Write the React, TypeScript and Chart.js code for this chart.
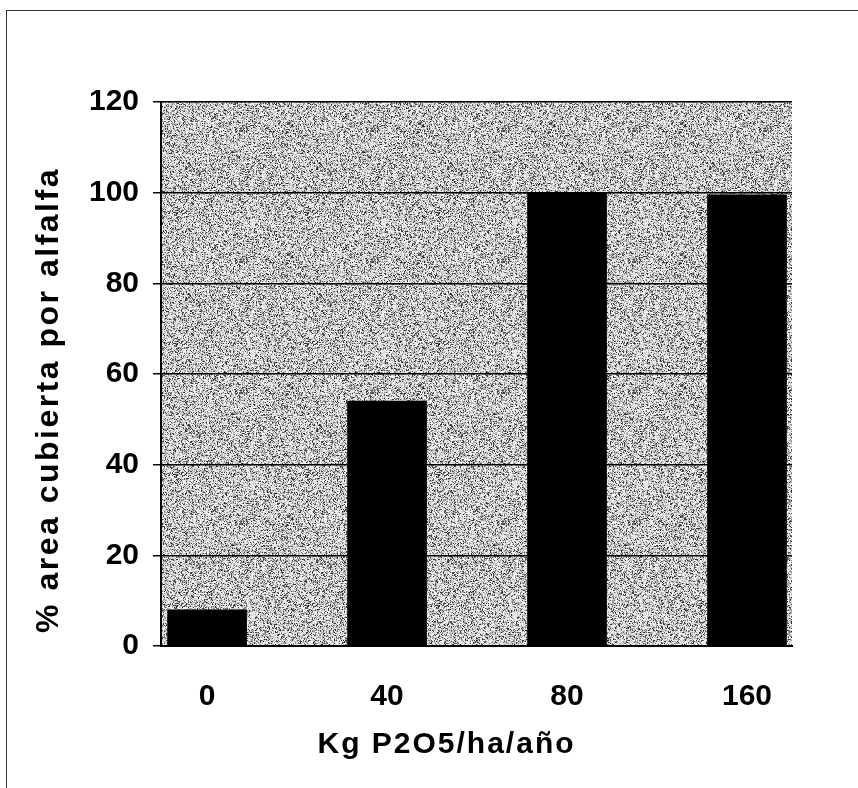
import React, { useEffect, useRef } from "react";
import { Chart, registerables } from "chart.js";

Chart.register(...registerables);

const categories = ["0", "40", "80", "160"];
const coverValues = [8, 54, 100, 99.5];
const yTicks = [0, 20, 40, 60, 80, 100, 120];
const xTitle = "Kg P2O5/ha/año";
const yTitle = "% area cubierta por alfalfa";

function makeNoisePattern(ctx: CanvasRenderingContext2D) {
  const size = 131;
  const pc = document.createElement("canvas");
  pc.width = size;
  pc.height = size;
  const p = pc.getContext("2d")!;
  const img = p.createImageData(size, size);
  for (let y = 0; y < size; y++) {
    for (let x = 0; x < size; x++) {
      let h = Math.imul(x, 374761393) + Math.imul(y, 668265263);
      h = Math.imul(h ^ (h >>> 13), 1274126177);
      h = (h ^ (h >>> 16)) >>> 0;
      const r = (h % 1000) / 1000;
      const r2 = ((h >>> 10) % 1000) / 1000;
      let g: number;
      if (r < 0.52) g = 215 + r2 * 40;
      else if (r < 0.8) g = 145 + r2 * 60;
      else g = 35 + r2 * 80;
      const i = (y * size + x) * 4;
      img.data[i] = g;
      img.data[i + 1] = g;
      img.data[i + 2] = g;
      img.data[i + 3] = 255;
    }
  }
  p.putImageData(img, 0, 0);
  return ctx.createPattern(pc, "repeat");
}

function styleTitle(scale: any, spacing: string, dx: number, dy: number) {
  if (scale.__styled) return;
  const orig = scale.drawTitle.bind(scale);
  scale.drawTitle = function () {
    const c = scale.ctx;
    c.save();
    (c as any).letterSpacing = spacing;
    c.translate(dx, dy);
    orig();
    c.restore();
  };
  scale.__styled = true;
}

export default function App() {
  const ref = useRef<HTMLCanvasElement>(null);

  useEffect(() => {
    document.body.style.margin = "0";
    const canvas = ref.current!;
    const ctx = canvas.getContext("2d")!;
    const pattern = makeNoisePattern(ctx);

    const bgPlugin = {
      id: "noiseBg",
      beforeDraw(chart: any) {
        const { ctx: c, chartArea: a } = chart;
        c.save();
        c.fillStyle = pattern || "#b4b4b4";
        c.fillRect(a.left, a.top, a.right - a.left, a.bottom - a.top);
        c.restore();
      },
    };

    const titlePlugin = {
      id: "titleStyle",
      afterUpdate(chart: any) {
        styleTitle(chart.scales.x, "2px", -30, 0);
        styleTitle(chart.scales.y, "2.5px", 0, 26);
      },
    };

    const font = { family: "'Liberation Sans', Arial, sans-serif", weight: "bold" as const };

    const chart = new Chart(canvas, {
      type: "bar",
      data: {
        datasets: [
          {
            data: categories.map((_, i) => ({ x: i, y: coverValues[i] })),
            backgroundColor: "#000000",
            borderWidth: 0,
            barThickness: 79,
          },
        ],
      },
      options: {
        animation: false,
        responsive: false,
        devicePixelRatio: 1,
        layout: { padding: { top: 102, right: 66, left: 0, bottom: 0 } },
        plugins: { legend: { display: false }, tooltip: { enabled: false } },
        scales: {
          x: {
            type: "linear",
            offset: false,
            min: -0.256,
            max: 3.25,
            afterFit(scale: any) {
              scale.height = 142;
            },
            afterBuildTicks(scale: any) {
              scale.ticks = categories.map((_, i) => ({ value: i }));
            },
            ticks: {
              autoSkip: false,
              maxRotation: 0,
              padding: 25,
              color: "#000",
              font: { ...font, size: 30 },
              callback: (v: any) => categories[Math.round(Number(v))] ?? "",
            },
            grid: { display: false },
            border: { display: true, color: "#000", width: 2 },
            title: {
              display: true,
              text: xTitle,
              color: "#000",
              font: { ...font, size: 30 },
              padding: { top: 0, bottom: 25 },
            },
          },
          y: {
            min: 0,
            max: 120,
            afterFit(scale: any) {
              scale.width = 161;
            },
            afterBuildTicks(scale: any) {
              scale.ticks = yTicks.map((v) => ({ value: v }));
            },
            ticks: {
              padding: 14,
              color: "#000",
              font: { ...font, size: 30 },
            },
            grid: {
              color: "#000",
              lineWidth: 1.5,
              tickLength: 8,
              drawTicks: true,
            },
            border: { display: true, color: "#000", width: 2 },
            title: {
              display: true,
              text: yTitle,
              color: "#000",
              font: { ...font, size: 32 },
              padding: { top: 30, bottom: 0 },
            },
          },
        },
      },
      plugins: [bgPlugin, titlePlugin],
    });

    return () => chart.destroy();
  }, []);

  return (
    <div style={{ position: "relative", width: 858, height: 788, overflow: "hidden", background: "#fff" }}>
      <canvas ref={ref} width={858} height={788} style={{ display: "block" }} />
      <div
        style={{
          position: "absolute",
          left: 6,
          top: 10,
          width: 1000,
          height: 1000,
          borderLeft: "1.5px solid #333",
          borderTop: "1.5px solid #333",
          pointerEvents: "none",
        }}
      />
    </div>
  );
}
